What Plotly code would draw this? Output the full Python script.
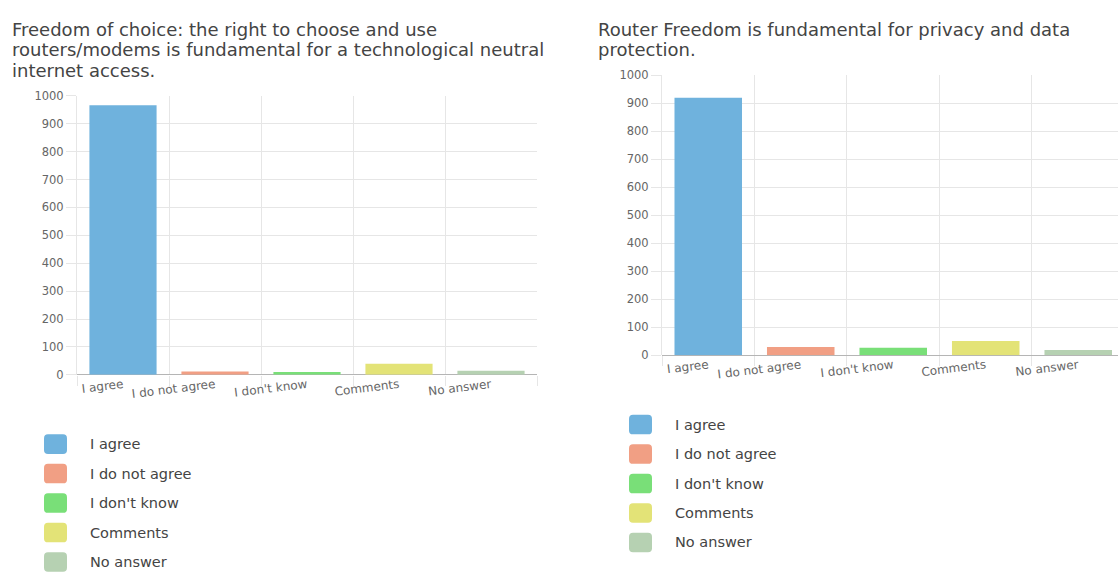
import plotly.graph_objects as go

# ---------------- data ----------------
categories = ["I agree", "I do not agree", "I don't know", "Comments", "No answer"]
values_q1 = [966, 12, 10, 40, 15]
values_q2 = [920, 30, 27, 51, 19]
bar_colors = ["#6fb2dd", "#f19f84", "#79df78", "#e3e377", "#b6d1b2"]
title_q1_lines = [
    "Freedom of choice: the right to choose and use",
    "routers/modems is fundamental for a technological neutral",
    "internet access.",
]
title_q2_lines = [
    "Router Freedom is fundamental for privacy and data",
    "protection.",
]
y_ticks = list(range(0, 1001, 100))

# ---------------- layout helpers ----------------
W, H = 1118, 577
FONT = "DejaVu Sans, Verdana, sans-serif"
TXT = "#444444"
TICK = "#666666"
GRID = "#e6e6e6"


def px(x):
    return x / W


def py(y):
    return 1 - y / H


fig = go.Figure()

for i, (cat, col) in enumerate(zip(categories, bar_colors)):
    fig.add_trace(go.Bar(x=[cat], y=[values_q1[i]], marker=dict(color=col, line=dict(width=0)),
                         width=0.73, xaxis="x", yaxis="y", showlegend=False, name=cat))
    fig.add_trace(go.Bar(x=[cat], y=[values_q2[i]], marker=dict(color=col, line=dict(width=0)),
                         width=0.73, xaxis="x2", yaxis="y2", showlegend=False, name=cat))

xcommon = dict(type="category", categoryorder="array", categoryarray=categories,
               tickson="boundaries", showgrid=True, gridcolor=GRID, gridwidth=1,
               ticks="outside", ticklen=10, tickcolor=GRID, tickangle=-7,
               tickfont=dict(family=FONT, size=12, color=TICK),
               showline=False, zeroline=False, fixedrange=True)
ycommon = dict(range=[0, 1000], tickvals=y_ticks, showgrid=True, gridcolor=GRID, gridwidth=1,
               ticks="outside", ticklen=10, tickcolor=GRID,
               tickfont=dict(family=FONT, size=11.5, color=TICK),
               showline=True, linecolor=GRID, linewidth=1,
               zeroline=True, zerolinecolor="#b5b5b5", zerolinewidth=1, fixedrange=True)

fig.update_layout(
    width=W, height=H,
    margin=dict(l=0, r=0, t=0, b=0),
    paper_bgcolor="white", plot_bgcolor="white",
    barmode="overlay",
    showlegend=False,
    xaxis=dict(domain=[px(77), px(537)], anchor="y", range=[-0.5, 4.5], **xcommon),
    yaxis=dict(domain=[py(377), py(91)], anchor="x", **ycommon),
    xaxis2=dict(domain=[px(662), 1.0], anchor="y2", range=[-0.5, 4.43], **xcommon),
    yaxis2=dict(domain=[py(357), py(70)], anchor="x2", **ycommon),
)

TITLE_SIZE = 18
annotations = []
for j, line in enumerate(title_q1_lines):
    annotations.append(dict(text=line, xref="paper", yref="paper", x=px(10), y=py(23 + 21 * j),
                            xanchor="left", yanchor="middle", showarrow=False,
                            font=dict(family=FONT, size=TITLE_SIZE, color=TXT)))
for j, line in enumerate(title_q2_lines):
    annotations.append(dict(text=line, xref="paper", yref="paper", x=px(596), y=py(23 + 21 * j),
                            xanchor="left", yanchor="middle", showarrow=False,
                            font=dict(family=FONT, size=TITLE_SIZE, color=TXT)))

shapes = []


def rounded_box(x0, y0, x1, y1, r):
    rx, ry = r / W, r / H
    X0, X1 = px(x0), px(x1)
    Y0, Y1 = py(y0), py(y1)  # Y0 top, Y1 bottom
    return (f"M {X0+rx},{Y0} L {X1-rx},{Y0} Q {X1},{Y0} {X1},{Y0-ry} "
            f"L {X1},{Y1+ry} Q {X1},{Y1} {X1-rx},{Y1} L {X0+rx},{Y1} "
            f"Q {X0},{Y1} {X0},{Y1+ry} L {X0},{Y0-ry} Q {X0},{Y0} {X0+rx},{Y0} Z")


legend_specs = [(44, 88, 448), (629, 673, 428)]
for (bx, tx, y0) in legend_specs:
    for i, (cat, col) in enumerate(zip(categories, bar_colors)):
        cy = y0 + 30.2 * i
        shapes.append(dict(type="path", xref="paper", yref="paper",
                           path=rounded_box(bx, cy - 10, bx + 23, cy + 10, 4),
                           fillcolor=col, line=dict(width=0)))
        annotations.append(dict(text=cat, xref="paper", yref="paper", x=px(tx), y=py(cy),
                                xanchor="left", yanchor="middle", showarrow=False,
                                font=dict(family=FONT, size=14.5, color=TXT)))

fig.update_layout(annotations=annotations, shapes=shapes)

fig.write_html("out.html", config={"displayModeBar": False})
